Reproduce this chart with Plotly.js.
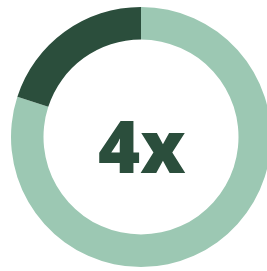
<!DOCTYPE html>
<html>
<head>
<meta charset="utf-8">
<script src="https://cdn.plot.ly/plotly-3.0.1.min.js"></script>
<style>
html,body{margin:0;padding:0;overflow:hidden;background:#fff;width:267px;height:271px;}
#chart{width:271px;height:271px;}
</style>
</head>
<body>
<div id="chart"></div>
<script>
const labels = ["Rest", "Share"];
const values = [80, 20];
const colors = ["#9cc8b3", "#2b4e3c"];
const centerText = "4x";

Plotly.newPlot("chart", [{
  type: "pie",
  labels: labels,
  values: values,
  hole: 0.75,
  sort: false,
  direction: "counterclockwise",
  rotation: 0,
  marker: {colors: colors, line: {width: 0}},
  textinfo: "none",
  hoverinfo: "none",
  showlegend: false
}], {
  width: 271,
  height: 271,
  margin: {l: 11, r: 0, t: 7, b: 4, pad: 0},
  paper_bgcolor: "#fff",
  plot_bgcolor: "#fff",
  annotations: [{
    text: centerText,
    xref: "paper", yref: "paper",
    x: 0.504, y: 0.469,
    xanchor: "center", yanchor: "middle",
    showarrow: false,
    font: {family: "Open Sans", size: 72, color: "#2b4e3c", weight: 800}
  }]
}, {staticPlot: true, displayModeBar: false});
</script>
</body>
</html>
